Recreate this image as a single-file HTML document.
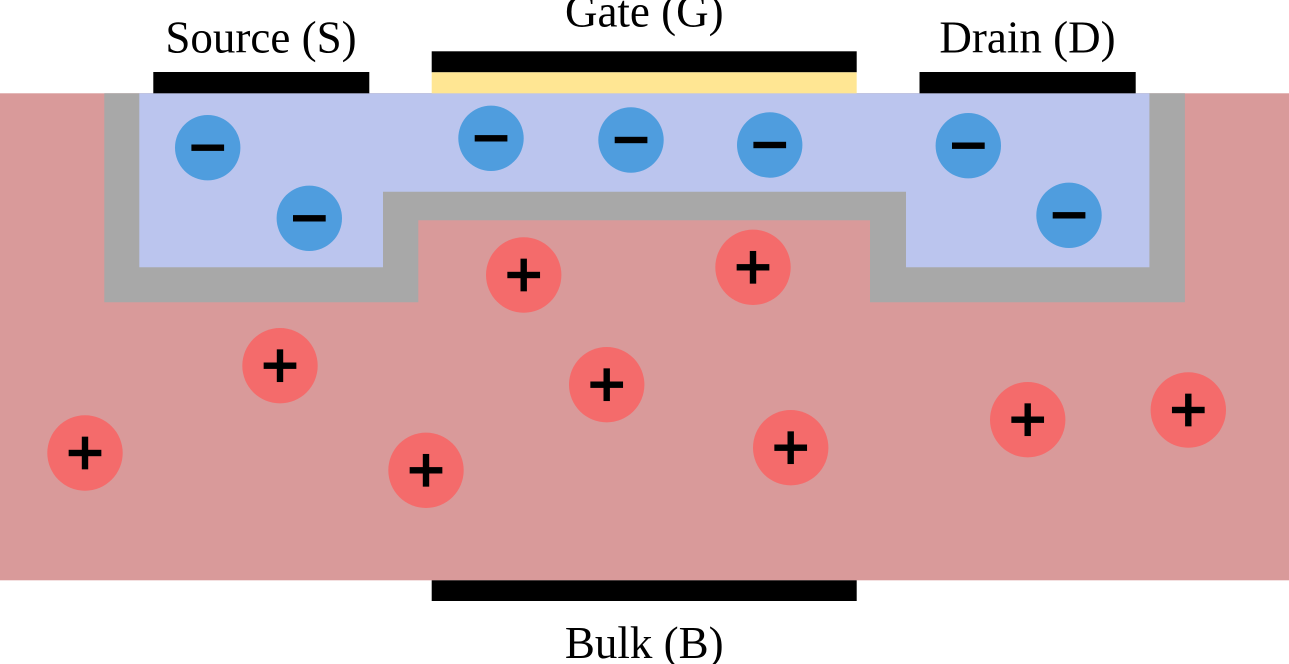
<!DOCTYPE html>
<html>
<head>
<meta charset="utf-8">
<style>
  html,body{margin:0;padding:0;background:#fff;}
  svg{display:block;}
  text{font-family:"Liberation Serif",serif;font-size:45px;fill:#000;}
</style>
</head>
<body>
<svg width="1289" height="664" viewBox="0 0 1289 664" xmlns="http://www.w3.org/2000/svg">
  <!-- substrate -->
  <rect x="0" y="93.3" width="1289" height="487" fill="#d99a9a"/>
  <!-- gray layer -->
  <path d="M104.3,93.3 L104.3,302.3 L418.3,302.3 L418.3,220.3 L870,220.3 L870,302.3 L1184.9,302.3 L1184.9,93.3 Z" fill="#a8a8a8"/>
  <!-- blue n-region -->
  <path d="M139.3,93.3 L139.3,267.3 L383,267.3 L383,191.7 L906,191.7 L906,267.3 L1149.4,267.3 L1149.4,93.3 Z" fill="#bbc5ee"/>

  <!-- contacts -->
  <rect x="153.3" y="72" width="216" height="21.3" fill="#000"/>
  <rect x="431.7" y="51.3" width="425" height="21" fill="#000"/>
  <rect x="431.7" y="72.3" width="425" height="21" fill="#ffe693"/>
  <rect x="919.5" y="72" width="216.2" height="21.3" fill="#000"/>
  <rect x="431.7" y="580.3" width="425" height="20.7" fill="#000"/>

  <!-- labels -->
  <text x="261" y="52.7" text-anchor="middle">Source (S)</text>
  <text x="644.3" y="26.7" text-anchor="middle">Gate (G)</text>
  <text x="1027.5" y="52.7" text-anchor="middle">Drain (D)</text>
  <text x="644.3" y="658" text-anchor="middle">Bulk (B)</text>

  <!-- electrons -->
  <g fill="#4f9dde">
    <circle cx="207.7" cy="147.7" r="32.7"/>
    <circle cx="309.3" cy="218.3" r="32.7"/>
    <circle cx="491" cy="138.3" r="32.7"/>
    <circle cx="631" cy="140" r="32.7"/>
    <circle cx="769.7" cy="145" r="32.7"/>
    <circle cx="968.3" cy="145.7" r="32.7"/>
    <circle cx="1069" cy="215.3" r="32.7"/>
  </g>
  <g fill="#000">
    <rect x="191.4" y="144.5" width="32.7" height="6.4"/>
    <rect x="293" y="215.1" width="32.7" height="6.4"/>
    <rect x="474.7" y="135.1" width="32.7" height="6.4"/>
    <rect x="614.7" y="136.8" width="32.7" height="6.4"/>
    <rect x="753.4" y="141.8" width="32.7" height="6.4"/>
    <rect x="952" y="142.5" width="32.7" height="6.4"/>
    <rect x="1052.7" y="212.1" width="32.7" height="6.4"/>
  </g>

  <!-- holes -->
  <g fill="#f46b6b">
    <circle cx="523.7" cy="275" r="37.7"/>
    <circle cx="753" cy="267.3" r="37.7"/>
    <circle cx="280" cy="365.7" r="37.7"/>
    <circle cx="606.7" cy="384.7" r="37.7"/>
    <circle cx="85" cy="453" r="37.7"/>
    <circle cx="426" cy="470.3" r="37.7"/>
    <circle cx="790.7" cy="447.7" r="37.7"/>
    <circle cx="1027.7" cy="419.7" r="37.7"/>
    <circle cx="1188.3" cy="410" r="37.7"/>
  </g>
  <g fill="#000">
    <!-- plus signs: horizontal + vertical bars -->
    <rect x="507.35" y="271.8" width="32.7" height="6.4"/><rect x="520.5" y="258.65" width="6.4" height="32.7"/>
    <rect x="736.65" y="264.1" width="32.7" height="6.4"/><rect x="749.8" y="250.95" width="6.4" height="32.7"/>
    <rect x="263.65" y="362.5" width="32.7" height="6.4"/><rect x="276.8" y="349.35" width="6.4" height="32.7"/>
    <rect x="590.35" y="381.5" width="32.7" height="6.4"/><rect x="603.5" y="368.35" width="6.4" height="32.7"/>
    <rect x="68.65" y="449.8" width="32.7" height="6.4"/><rect x="81.8" y="436.65" width="6.4" height="32.7"/>
    <rect x="409.65" y="467.1" width="32.7" height="6.4"/><rect x="422.8" y="453.95" width="6.4" height="32.7"/>
    <rect x="774.35" y="444.5" width="32.7" height="6.4"/><rect x="787.5" y="431.35" width="6.4" height="32.7"/>
    <rect x="1011.35" y="416.5" width="32.7" height="6.4"/><rect x="1024.5" y="403.35" width="6.4" height="32.7"/>
    <rect x="1171.95" y="406.8" width="32.7" height="6.4"/><rect x="1185.1" y="393.65" width="6.4" height="32.7"/>
  </g>
</svg>
</body>
</html>
